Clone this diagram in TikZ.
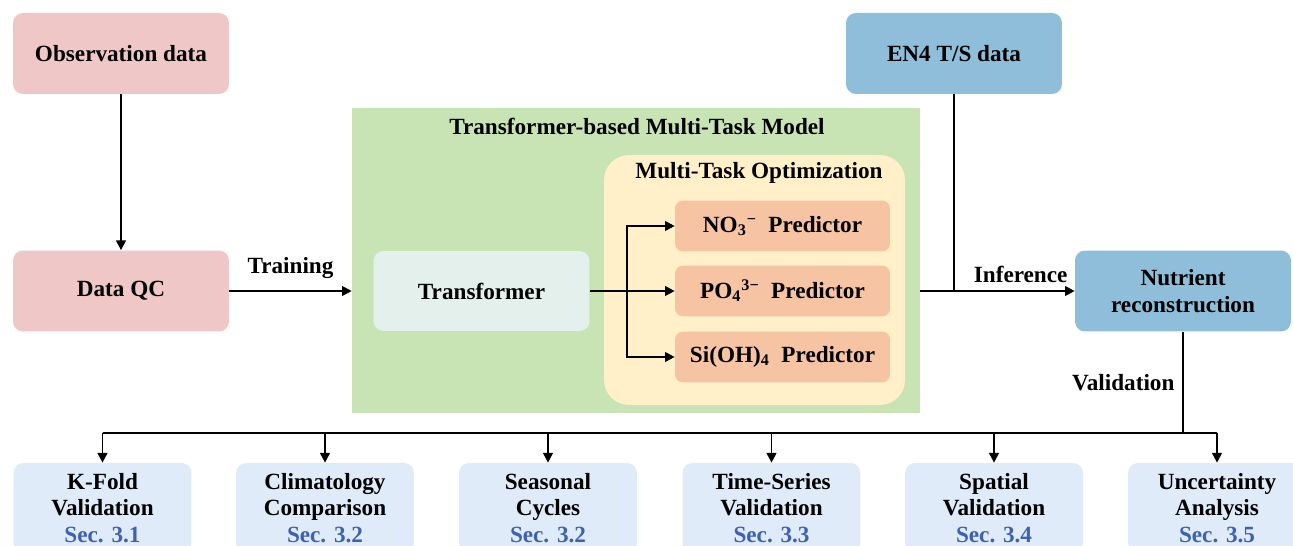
\documentclass[tikz,border=0pt]{standalone}
\usepackage{fontspec}
\setmainfont{Liberation Serif}
\usetikzlibrary{arrows.meta}

\definecolor{obspink}{HTML}{EFC7C6}
\definecolor{modelgreen}{HTML}{C9E4B4}
\definecolor{transgrey}{HTML}{E4F0EC}
\definecolor{optyellow}{HTML}{FFF0C9}
\definecolor{predorange}{HTML}{F6C4A2}
\definecolor{datablue}{HTML}{8FBEDB}
\definecolor{checkblue}{HTML}{DFEBF9}
\definecolor{secblue}{HTML}{3F62B0}

% ion: sub- then superscript
\newcommand{\ion}[3]{#1\textsubscript{#2}\textsuperscript{#3}}

\begin{document}
\begin{tikzpicture}[
        x=0.02cm,y=-0.02cm,
        every node/.append style={font=\fontsize{13.2}{15.3}\selectfont\bfseries},
        databox/.style={rounded corners=0.2cm,minimum width=4.32cm,minimum height=1.62cm,align=center,inner sep=0pt},
        predbox/.style={rounded corners=0.16cm,fill=predorange,minimum width=4.3cm,minimum height=1.02cm,inner sep=0pt},
        checkbox/.style={rounded corners=0.2cm,fill=checkblue,minimum width=3.56cm,minimum height=1.8cm,align=center,inner sep=0pt},
        link/.style={line width=1.1pt,-{Triangle[length=5.5pt,width=5.5pt]}},
        wire/.style={line width=1.1pt}
    ]
    \useasboundingbox (0,0) rectangle (1293,546);
    \clip (0,0) rectangle (1293,546);

    % model frame
    \node[fill=modelgreen,minimum width=11.36cm,minimum height=6.1cm,inner sep=0pt] (model) at (636,260.5) {};
    \node (modeltitle) at (637,126) {Transformer-based Multi-Task Model};
    \node[fill=optyellow,rounded corners=0.5cm,minimum width=6.02cm,minimum height=5cm,inner sep=0pt] (opt) at (754.5,280) {};
    \node (opttitle) at (759,173) {Multi-Task Optimization};

    \node[databox,fill=obspink] (obs) at (121,53.5) {Observation data};
    \node[databox,fill=obspink] (qc) at (121,291) {Data QC};
    \node[databox,fill=transgrey,minimum height=1.6cm] (trans) at (481.5,291) {Transformer};
    \node[predbox] (no3) at (782.5,226) {\ion{NO}{3}{−}\ \ Predictor};
    \node[predbox] (po4) at (782.5,291) {\ion{PO}{4}{3−}\ \ Predictor};
    \node[predbox] (sioh) at (782.5,357) {Si(OH)\textsubscript{4}\ \ Predictor};
    \node[databox,fill=datablue] (en4) at (954,53.5) {EN4 T/S data};
    \node[databox,fill=datablue] (recon) at (1183,291) {Nutrient\\reconstruction};

    \node[checkbox] (kfold) at (102.5,508) {K-Fold\\Validation\\\textcolor{secblue}{Sec. 3.1}};
    \node[checkbox] (clim) at (325,508) {Climatology\\Comparison\\\textcolor{secblue}{Sec. 3.2}};
    \node[checkbox] (season) at (548,508) {Seasonal\\Cycles\\\textcolor{secblue}{Sec. 3.2}};
    \node[checkbox] (series) at (771.5,508) {Time-Series\\Validation\\\textcolor{secblue}{Sec. 3.3}};
    \node[checkbox] (spatial) at (994,508) {Spatial\\Validation\\\textcolor{secblue}{Sec. 3.4}};
    \node[checkbox] (uncert) at (1217,508) {Uncertainty\\Analysis\\\textcolor{secblue}{Sec. 3.5}};

    \draw[link] (obs) -- (qc);
    \draw[link] (qc) -- node[above=3pt]{Training} (model.west |- qc);

    % transformer output split to the three heads
    \coordinate (split) at (627,291);
    \draw[link] (trans) -- (po4);
    \draw[link] (split) |- (no3);
    \draw[link] (split) |- (sioh);

    \draw[link] (model.east |- recon) -- node[pos=0.65,above=1pt]{Inference} (recon);
    \draw[wire] (en4) -- (en4.south |- recon);

    \coordinate (bus) at (1183,433);
    \draw[wire] (recon) -- node[left=1pt,pos=0.5]{Validation} (bus);
    \draw[wire] (kfold.north |- bus) -- (uncert.north |- bus);
    \foreach \n in {kfold,clim,season,series,spatial,uncert}
        \draw[link] (\n.north |- bus) -- (\n.north);
\end{tikzpicture}
\end{document}
